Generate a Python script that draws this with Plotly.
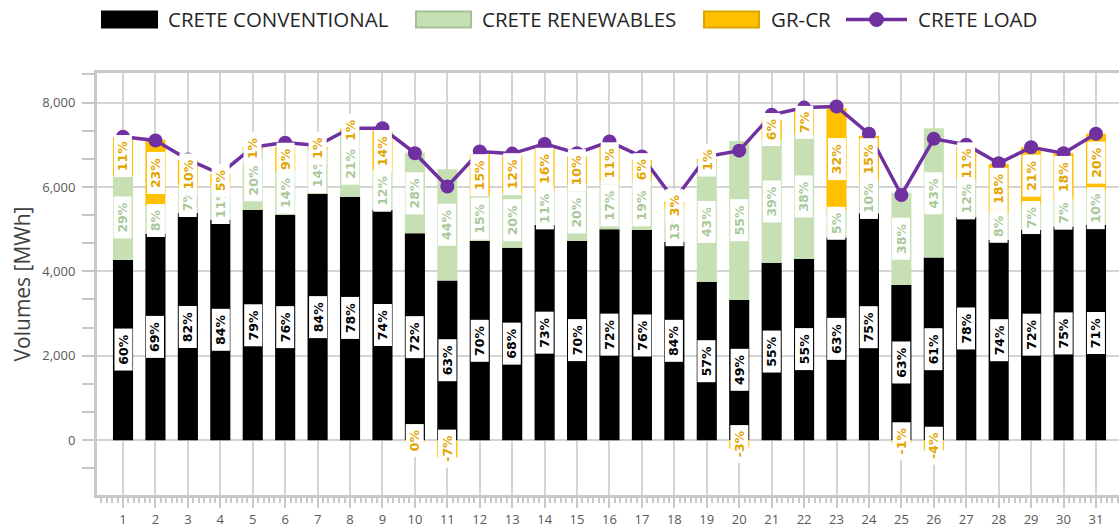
import plotly.graph_objects as go

days = list(range(1, 32))
conventional = [4270, 4890, 5380, 5220, 5455, 5340, 5835, 5770, 5455, 4900, 3780, 4720, 4560, 5100, 4720, 5000,
                4980, 4700, 3755, 3320, 4205, 4295, 4800, 5375, 3675, 4325, 5280, 4745, 4980, 5060, 5100]
renewables = [1990, 650, 590, 790, 1416, 1030, 1040, 1540, 910, 1915, 2640, 1070, 1290, 790, 1330, 1125,
              1190, 780, 2845, 3770, 2910, 2940, 655, 750, 2190, 3065, 885, 630, 595, 615, 815]
gr_cr = [920, 1580, 670, 300, 70, 580, 70, 70, 970, -25, -410, 990, 890, 1085, 670, 870,
         475, 170, 65, -200, 475, 595, 2410, 1085, -60, -250, 775, 1170, 1365, 1125, 1345]
load = [7190, 7100, 6650, 6310, 6940, 7050, 6980, 7390, 7390, 6800, 6010, 6840, 6790, 7020, 6800, 7075,
        6720, 5690, 6720, 6860, 7710, 7880, 7905, 7260, 5810, 7140, 7000, 6560, 6940, 6800, 7260]
conv_pct = [60, 69, 82, 84, 79, 76, 84, 78, 74, 72, 63, 70, 68, 73, 70, 72, 76, 84, 57, 49, 55, 55, 63, 75,
            63, 61, 78, 74, 72, 75, 71]
ren_pct = [29, 8, 7, 11, 20, 14, 14, 21, 12, 28, 44, 15, 20, 11, 20, 17, 19, 13, 43, 55, 39, 38, 5, 10,
           38, 43, 12, 8, 7, 7, 10]
grcr_pct = [11, 23, 10, 5, 1, 9, 1, 1, 14, 0, -7, 15, 12, 16, 10, 11, 6, 3, 1, -3, 6, 7, 32, 15,
            -1, -4, 11, 18, 21, 18, 20]
series_names = ["CRETE CONVENTIONAL", "CRETE RENEWABLES", "GR-CR", "CRETE LOAD"]

C_CONV = "#000000"
C_REN = "#c6e0b4"
C_REN_EDGE = "#a3c293"
C_GR = "#ffc000"
C_GR_EDGE = "#dba400"
C_LOAD = "#7030a0"
FONT = "Open Sans"

W, H = 1119, 529
ML, MR, MT, MB = 97, 0, 73, 34
PW, PH = W - ML - MR, H - MT - MB


def px(x):  # window pixel -> paper fraction
    return (x - ML) / PW


def py(y):
    return (H - MB - y) / PH


fig = go.Figure()
fig.add_trace(go.Bar(x=days, y=conventional, name=series_names[0], width=0.62, showlegend=False,
                     marker=dict(color=C_CONV, line=dict(width=0))))
fig.add_trace(go.Bar(x=days, y=renewables, name=series_names[1], width=0.62, showlegend=False,
                     marker=dict(color=C_REN, line=dict(width=0))))
fig.add_trace(go.Bar(x=days, y=gr_cr, name=series_names[2], width=0.62, showlegend=False,
                     marker=dict(color=C_GR, line=dict(width=0))))
fig.add_trace(go.Scatter(x=days, y=load, name=series_names[3], mode="lines+markers", showlegend=False,
                         line=dict(color=C_LOAD, width=3.5),
                         marker=dict(color=C_LOAD, size=14)))

NB = "\u00a0"
annotations = []


def add_labels(centers, pcts, color):
    for d, c, p in zip(days, centers, pcts):
        annotations.append(dict(
            x=d, y=c, xref="x", yref="y", text=f"<b>{NB}{p}%{NB}</b>", showarrow=False,
            textangle=-90, bgcolor="#ffffff", borderpad=1,
            font=dict(family="DejaVu Sans", size=12.5, color=color)))


conv_centers = [c / 2 for c in conventional]
ren_centers = [c + r / 2 for c, r in zip(conventional, renewables)]
gr_centers = [(c + r + g / 2) if g >= 0 else g / 2 for c, r, g in zip(conventional, renewables, gr_cr)]
add_labels(conv_centers, conv_pct, "#000000")
add_labels(ren_centers, ren_pct, "#a9c99a")
add_labels(gr_centers, grcr_pct, "#e3a600")

# custom legend (large swatches like the original)
shapes = []
LEG_Y0, LEG_Y1, LEG_YC = 11.5, 27.5, 19.5
swatches = [(102, 157, C_CONV, C_CONV), (416, 471, C_REN, C_REN_EDGE), (704, 759, C_GR, C_GR_EDGE)]
text_x = [166, 480, 769, 916]
for (x0, x1, fc, lc) in swatches:
    shapes.append(dict(type="rect", xref="paper", yref="paper", x0=px(x0), x1=px(x1),
                       y0=py(LEG_Y1), y1=py(LEG_Y0), fillcolor=fc, line=dict(color=lc, width=2),
                       layer="above"))
shapes.append(dict(type="line", xref="paper", yref="paper", x0=px(846), x1=px(907),
                   y0=py(LEG_YC), y1=py(LEG_YC), line=dict(color=C_LOAD, width=3.5), layer="above"))
shapes.append(dict(type="circle", xref="paper", yref="paper", x0=px(876.5 - 7), x1=px(876.5 + 7),
                   y0=py(LEG_YC + 7), y1=py(LEG_YC - 7), fillcolor=C_LOAD, line=dict(color=C_LOAD, width=1),
                   layer="above"))
for tx, name in zip(text_x, series_names):
    annotations.append(dict(x=px(tx), y=py(LEG_YC), xref="paper", yref="paper", text=name,
                            showarrow=False, xanchor="left", yanchor="middle", borderpad=1,
                            font=dict(family=FONT, size=20.5, color="#262626")))

GRID = "#d4d4d4"
fig.update_layout(
    width=W, height=H,
    margin=dict(l=ML, r=MR, t=MT, b=MB, autoexpand=False),
    paper_bgcolor="#ffffff", plot_bgcolor="#ffffff",
    barmode="relative", bargap=0.38,
    font=dict(family=FONT, color="#404040"),
    annotations=annotations,
    shapes=shapes,
    showlegend=False,
    xaxis=dict(range=[0.198, 31.71], tickmode="linear", tick0=1, dtick=1, automargin=False,
               showgrid=True, gridcolor=GRID, gridwidth=2,
               showline=True, linecolor="#c8c8c8", linewidth=3, mirror=True,
               ticks="outside", ticklen=10, tickwidth=2, tickcolor="#c8c8c8",
               minor=dict(dtick=1 / 6, ticks="outside", ticklen=5, tickwidth=2, tickcolor="#c8c8c8",
                          showgrid=False),
               tickfont=dict(family=FONT, size=13, color="#595959"), zeroline=False),
    yaxis=dict(range=[-1300, 8700], tickmode="linear", tick0=0, dtick=2000, tickformat=",",
               automargin=False, ticklabelstandoff=4,
               showgrid=True, gridcolor=GRID, gridwidth=2,
               zeroline=True, zerolinecolor=GRID, zerolinewidth=2,
               showline=True, linecolor="#c8c8c8", linewidth=3,
               ticks="outside", ticklen=12, tickwidth=2, tickcolor="#c8c8c8",
               minor=dict(dtick=2000 / 3, tick0=0, ticks="outside", ticklen=12, tickwidth=2,
                          tickcolor="#c8c8c8", showgrid=False),
               tickfont=dict(family=FONT, size=13, color="#595959"),
               title=dict(text="Volumes [MWh]", standoff=6,
                          font=dict(family=FONT, size=21, color="#404040"))),
)

# remove the default 8px page margin so the figure sits at the window's top-left corner
fig.write_html("out.html", config={"displayModeBar": False},
               post_script="document.body.style.margin='0';")
